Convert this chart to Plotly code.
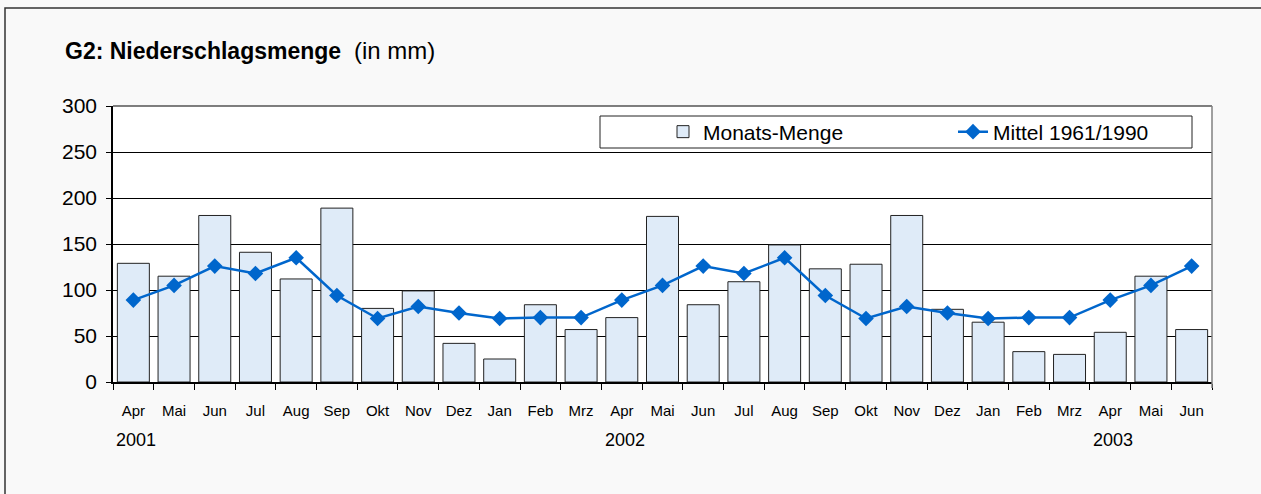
import plotly.graph_objects as go

months = ["Apr", "Mai", "Jun", "Jul", "Aug", "Sep", "Okt", "Nov", "Dez", "Jan", "Feb", "Mrz",
          "Apr", "Mai", "Jun", "Jul", "Aug", "Sep", "Okt", "Nov", "Dez", "Jan", "Feb", "Mrz",
          "Apr", "Mai", "Jun"]
categories = [f"{m}_{i}" for i, m in enumerate(months)]
monats_menge = [129, 115, 181, 141, 112, 189, 80, 99, 42, 25, 84, 57,
                70, 180, 84, 109, 149, 123, 128, 181, 79, 65, 33, 30,
                54, 115, 57]
mittel = [89, 105, 126, 118, 135, 94, 69, 82, 75, 69, 70, 70,
          89, 105, 126, 118, 135, 94, 69, 82, 75, 69, 70, 70,
          89, 105, 126]
year_labels = ["2001", "2002", "2003"]
year_positions = [0, 12, 24]
y_ticks = [0, 50, 100, 150, 200, 250, 300]

FONT = "Liberation Sans, Arial, sans-serif"

fig = go.Figure()
fig.add_trace(go.Bar(
    x=categories, y=monats_menge, name="Monats-Menge",
    marker=dict(color="#dfebf8", line=dict(color="#222222", width=1)),
))
fig.add_trace(go.Scatter(
    x=categories, y=mittel, name="Mittel 1961/1990", mode="lines+markers",
    line=dict(color="#0066cc", width=2.5),
    marker=dict(symbol="diamond", size=12, color="#0066cc"),
))

W, H = 1261, 494
L, R, T, B = 113, 1212, 106, 382
pw, ph = R - L, B - T
def px(x):
    return (x - L) / pw
def py(y):
    return (B - y) / ph

shapes = [
    # outer frame (extends beyond the visible page on right and bottom)
    dict(type="rect", xref="paper", yref="paper", x0=px(5), x1=px(1320), y0=py(560), y1=py(8),
         line=dict(color="#333333", width=1.5), layer="below"),
    # top border of plot area (300 line)
    dict(type="line", xref="paper", yref="paper", x0=0, x1=1, y0=1, y1=1,
         line=dict(color="black", width=1)),
    # right border of plot area
    dict(type="line", xref="paper", yref="paper", x0=1, x1=1, y0=py(388), y1=1,
         line=dict(color="#808080", width=1.5)),
    # legend box
    dict(type="rect", xref="paper", yref="paper", x0=px(600), x1=px(1192), y0=py(148), y1=py(116),
         line=dict(color="#222222", width=1), fillcolor="white", layer="below"),
]

annotations = [
    dict(xref="paper", yref="paper", x=px(63), y=py(50), xanchor="left", yanchor="middle",
         text="<b>G2: Niederschlagsmenge</b>  <span style='font-size:24px'>(in mm)</span>",
         showarrow=False, font=dict(family=FONT, size=23, color="black")),
]
for lab, pos in zip(year_labels, year_positions):
    annotations.append(dict(xref="x", yref="paper", x=categories[pos], y=py(440),
                            xanchor="center", yanchor="middle", xshift=3, text=lab, showarrow=False,
                            font=dict(family=FONT, size=18, color="black")))

fig.update_layout(
    width=W, height=H,
    margin=dict(l=L, r=W - R, t=T, b=H - B, pad=0),
    paper_bgcolor="#f9f9f9", plot_bgcolor="white",
    bargap=0.214,
    showlegend=True,
    legend=dict(orientation="h", x=px(663), y=py(132), xanchor="left", yanchor="middle",
                bgcolor="rgba(0,0,0,0)", borderwidth=0, entrywidth=245,
                font=dict(family=FONT, size=21, color="black")),
    shapes=shapes,
    annotations=annotations,
    font=dict(family=FONT, color="black"),
)
fig.update_xaxes(
    type="category", tickmode="array", tickvals=categories, ticktext=months,
    tickson="boundaries", ticks="outside", ticklen=6, tickcolor="black",
    showline=True, linecolor="black", linewidth=1.5, showgrid=False,
    tickfont=dict(family=FONT, size=15, color="black"), ticklabelstandoff=14,
    range=[-0.5, len(categories) - 0.5],
)
fig.update_yaxes(
    range=[0, 300], tickvals=y_ticks, ticks="outside", ticklen=5, tickcolor="black",
    showline=True, linecolor="black", linewidth=1.5,
    showgrid=True, gridcolor="black", gridwidth=1, zeroline=False,
    tickfont=dict(family=FONT, size=21, color="black"), ticklabelstandoff=5,
)

fig.write_html("out.html", config={"displayModeBar": False},
               post_script="document.body.style.margin='0';document.body.style.overflow='hidden';")
